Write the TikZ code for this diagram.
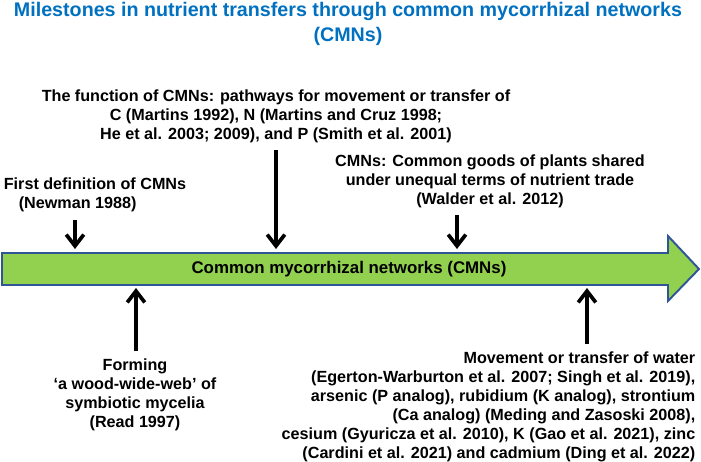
\documentclass[tikz,border=0pt]{standalone}
\usepackage{fontspec}
\setmainfont{Liberation Sans}
\usepackage{tikz}
\usetikzlibrary{arrows,arrows.meta}
\definecolor{titleblue}{RGB}{0,112,192}
\definecolor{bargreen}{RGB}{146,208,80}
\definecolor{barblue}{RGB}{47,85,151}

\begin{document}
\begin{tikzpicture}[x=0.02cm, y=-0.02cm, thick]
	\tikzstyle{note} = [font=\fontsize{9.2}{10.8}\selectfont\bfseries, align=center, inner sep=0pt]
	\tikzstyle{line} = [draw, line width=2.1pt, -{Straight Barb[length=6.5pt,width=10pt]}, shorten <=4pt];
	\useasboundingbox (0,0) rectangle (701,461);
	% title
	\node [font=\fontsize{11.2}{14}\selectfont\bfseries, text=titleblue, align=center, inner sep=0pt] (title) at (348,24)
		{Milestones in nutrient transfers through common mycorrhizal networks\\(CMNs)};
	% timeline
	\draw [barblue, line width=1.1pt, fill=bargreen] (2,253) -- (668,253) -- (668,236) -- (699,269)
		-- (668,301) -- (668,285) -- (2,285) -- cycle;
	\node [note, font=\fontsize{9.6}{11}\selectfont\bfseries] (cmn) at (349,269) {Common mycorrhizal networks (CMNs)};
	% row 1: above the timeline
	\node [note, align=left] (first) at (95,195) {First definition of CMNs\\\hspace*{8.5pt}(Newman 1988)};
	\node [note] (func) at (276,116) {The function of CMNs: pathways for movement or transfer of\\
		C (Martins 1992), N (Martins and Cruz 1998;\\He et al. 2003; 2009), and P (Smith et al. 2001)};
	\node [note] (goods) at (490,181) {CMNs: Common goods of plants shared\\under unequal terms of nutrient trade\\(Walder et al. 2012)};
	% row 2: below the timeline
	\node [note] (wood) at (135,395) {Forming\\`a wood-wide-web' of\\symbiotic mycelia\\(Read 1997)};
	\node [note, align=right, anchor=east] (water) at (696,407) {Movement or transfer of water\\
		(Egerton-Warburton et al. 2007; Singh et al. 2019),\\
		arsenic (P analog), rubidium (K analog), strontium\\
		(Ca analog) (Meding and Zasoski 2008),\\
		cesium (Gyuricza et al. 2010), K (Gao et al. 2021), zinc\\
		(Cardini et al. 2021) and cadmium (Ding et al. 2022)};
	% where the arrows meet the timeline
	\coordinate (top1) at (75,249);
	\coordinate (top2) at (276,249);
	\coordinate (top3) at (457,249);
	\coordinate (bot1) at (136,288);
	\coordinate (bot2) at (587,288);
	\path [line] (first.south -| top1) -- (top1);
	\path [line] (func.south -| top2) -- (top2);
	\path [line] (goods.south -| top3) -- (top3);
	\path [line] (wood.north -| bot1) -- (bot1);
	\path [line] (water.north -| bot2) -- (bot2);
\end{tikzpicture}
\end{document}
